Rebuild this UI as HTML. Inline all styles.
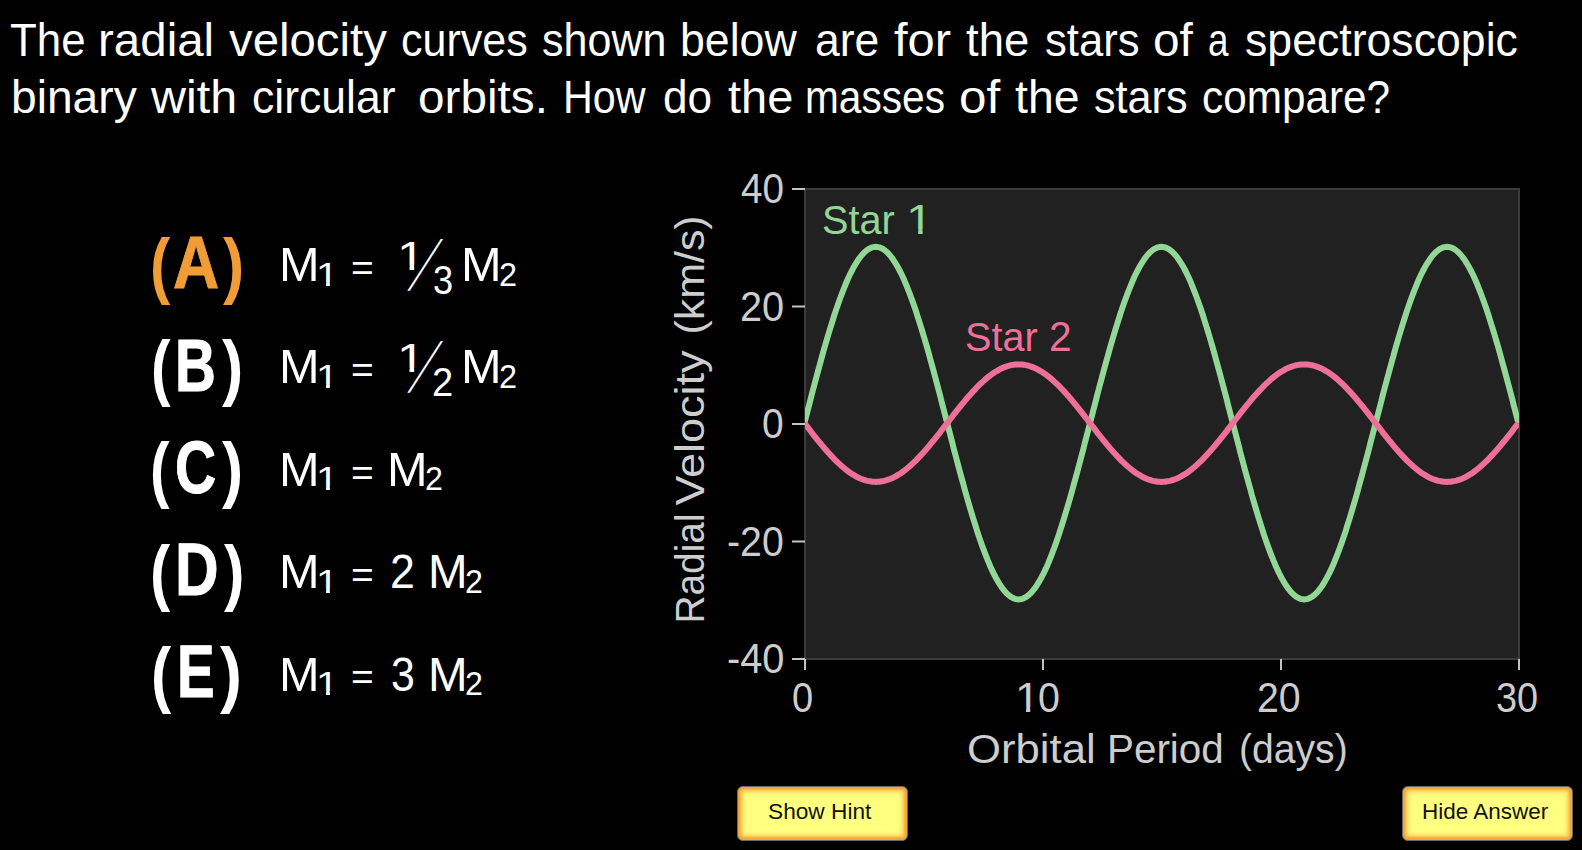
<!DOCTYPE html>
<html lang="en">
<head>
<meta charset="utf-8">
<title>Spectroscopic binary question</title>
<style>
html,body{margin:0;padding:0;background:#000;}
body{width:1582px;height:850px;position:relative;overflow:hidden;font-family:"Liberation Sans","DejaVu Sans",sans-serif;color:#fff;}
.t{position:absolute;white-space:nowrap;transform-origin:0 0;line-height:1;margin:0;padding:0;display:block;}
.lb{-webkit-text-stroke:1px currentColor;}
.one{clip-path:polygon(0 0,100% 0,100% 73.5%,61.7% 73.5%,61.7% 100%,44.9% 100%,44.9% 73.5%,0 73.5%);}
.sl{position:absolute;white-space:nowrap;line-height:1;font-size:29px;transform-origin:50% 50%;transform:skewX(-28deg) scaleY(2.43);}
.btn{position:absolute;box-sizing:border-box;height:54.5px;width:171px;top:786px;border:1px solid #6a6a66;border-radius:6px;background:#ffff80;box-shadow:inset 0 0 2px 2.5px #f3a53a,inset 0 0 5px 4.5px #f8c152,inset 0 -2px 3px 0 #f3ae44;}
svg{position:absolute;left:0;top:0;}
</style>
</head>
<body>

<svg width="1582" height="850" viewBox="0 0 1582 850">
  <defs><clipPath id="cp"><rect x="805" y="189" width="714" height="470"/></clipPath></defs>
  <rect x="805" y="189" width="714" height="470" fill="#212121" stroke="#3b3b3b" stroke-width="2"/>
  <g clip-path="url(#cp)" fill="none" stroke-width="6" stroke-linejoin="round">
    <path stroke="#93d796" d="M804.4,423.1 L805.6,418.5 L806.8,413.9 L808.0,409.3 L809.2,404.7 L810.4,400.1 L811.5,395.5 L812.7,391.0 L813.9,386.5 L815.1,382.0 L816.3,377.5 L817.5,373.0 L818.7,368.6 L819.9,364.3 L821.1,359.9 L822.2,355.7 L823.4,351.4 L824.6,347.2 L825.8,343.1 L827.0,339.0 L828.2,335.0 L829.4,331.0 L830.6,327.1 L831.8,323.3 L833.0,319.5 L834.1,315.8 L835.3,312.2 L836.5,308.6 L837.7,305.2 L838.9,301.8 L840.1,298.5 L841.3,295.3 L842.5,292.1 L843.7,289.1 L844.9,286.1 L846.0,283.3 L847.2,280.5 L848.4,277.8 L849.6,275.3 L850.8,272.8 L852.0,270.5 L853.2,268.2 L854.4,266.1 L855.6,264.0 L856.8,262.1 L857.9,260.3 L859.1,258.6 L860.3,257.0 L861.5,255.5 L862.7,254.1 L863.9,252.9 L865.1,251.7 L866.3,250.7 L867.5,249.8 L868.7,249.0 L869.9,248.4 L871.0,247.8 L872.2,247.4 L873.4,247.1 L874.6,246.9 L875.8,246.8 L877.0,246.9 L878.2,247.1 L879.4,247.4 L880.6,247.8 L881.8,248.4 L882.9,249.0 L884.1,249.8 L885.3,250.7 L886.5,251.7 L887.7,252.9 L888.9,254.1 L890.1,255.5 L891.3,257.0 L892.5,258.6 L893.6,260.3 L894.8,262.1 L896.0,264.0 L897.2,266.1 L898.4,268.2 L899.6,270.5 L900.8,272.8 L902.0,275.3 L903.2,277.8 L904.4,280.5 L905.5,283.3 L906.7,286.1 L907.9,289.1 L909.1,292.1 L910.3,295.3 L911.5,298.5 L912.7,301.8 L913.9,305.2 L915.1,308.6 L916.3,312.2 L917.4,315.8 L918.6,319.5 L919.8,323.3 L921.0,327.1 L922.2,331.0 L923.4,335.0 L924.6,339.0 L925.8,343.1 L927.0,347.2 L928.2,351.4 L929.4,355.7 L930.5,359.9 L931.7,364.3 L932.9,368.6 L934.1,373.0 L935.3,377.5 L936.5,382.0 L937.7,386.5 L938.9,391.0 L940.1,395.5 L941.2,400.1 L942.4,404.7 L943.6,409.3 L944.8,413.9 L946.0,418.5 L947.2,423.1 L948.4,427.7 L949.6,432.3 L950.8,436.9 L952.0,441.5 L953.1,446.1 L954.3,450.7 L955.5,455.2 L956.7,459.7 L957.9,464.2 L959.1,468.7 L960.3,473.2 L961.5,477.6 L962.7,481.9 L963.9,486.3 L965.0,490.5 L966.2,494.8 L967.4,499.0 L968.6,503.1 L969.8,507.2 L971.0,511.2 L972.2,515.2 L973.4,519.1 L974.6,522.9 L975.8,526.7 L976.9,530.4 L978.1,534.0 L979.3,537.6 L980.5,541.0 L981.7,544.4 L982.9,547.7 L984.1,550.9 L985.3,554.1 L986.5,557.1 L987.7,560.1 L988.9,562.9 L990.0,565.7 L991.2,568.4 L992.4,570.9 L993.6,573.4 L994.8,575.7 L996.0,578.0 L997.2,580.1 L998.4,582.2 L999.6,584.1 L1000.8,585.9 L1001.9,587.6 L1003.1,589.2 L1004.3,590.7 L1005.5,592.1 L1006.7,593.3 L1007.9,594.5 L1009.1,595.5 L1010.3,596.4 L1011.5,597.2 L1012.6,597.8 L1013.8,598.4 L1015.0,598.8 L1016.2,599.1 L1017.4,599.3 L1018.6,599.4 L1019.8,599.3 L1021.0,599.1 L1022.2,598.8 L1023.4,598.4 L1024.6,597.8 L1025.7,597.2 L1026.9,596.4 L1028.1,595.5 L1029.3,594.5 L1030.5,593.3 L1031.7,592.1 L1032.9,590.7 L1034.1,589.2 L1035.3,587.6 L1036.5,585.9 L1037.6,584.1 L1038.8,582.2 L1040.0,580.1 L1041.2,578.0 L1042.4,575.7 L1043.6,573.4 L1044.8,570.9 L1046.0,568.4 L1047.2,565.7 L1048.4,562.9 L1049.5,560.1 L1050.7,557.1 L1051.9,554.1 L1053.1,550.9 L1054.3,547.7 L1055.5,544.4 L1056.7,541.0 L1057.9,537.6 L1059.1,534.0 L1060.2,530.4 L1061.4,526.7 L1062.6,522.9 L1063.8,519.1 L1065.0,515.2 L1066.2,511.2 L1067.4,507.2 L1068.6,503.1 L1069.8,499.0 L1071.0,494.8 L1072.2,490.5 L1073.3,486.3 L1074.5,481.9 L1075.7,477.6 L1076.9,473.2 L1078.1,468.7 L1079.3,464.2 L1080.5,459.7 L1081.7,455.2 L1082.9,450.7 L1084.1,446.1 L1085.2,441.5 L1086.4,436.9 L1087.6,432.3 L1088.8,427.7 L1090.0,423.1 L1091.2,418.5 L1092.4,413.9 L1093.6,409.3 L1094.8,404.7 L1096.0,400.1 L1097.1,395.5 L1098.3,391.0 L1099.5,386.5 L1100.7,382.0 L1101.9,377.5 L1103.1,373.0 L1104.3,368.6 L1105.5,364.3 L1106.7,359.9 L1107.9,355.7 L1109.0,351.4 L1110.2,347.2 L1111.4,343.1 L1112.6,339.0 L1113.8,335.0 L1115.0,331.0 L1116.2,327.1 L1117.4,323.3 L1118.6,319.5 L1119.8,315.8 L1120.9,312.2 L1122.1,308.6 L1123.3,305.2 L1124.5,301.8 L1125.7,298.5 L1126.9,295.3 L1128.1,292.1 L1129.3,289.1 L1130.5,286.1 L1131.7,283.3 L1132.8,280.5 L1134.0,277.8 L1135.2,275.3 L1136.4,272.8 L1137.6,270.5 L1138.8,268.2 L1140.0,266.1 L1141.2,264.0 L1142.4,262.1 L1143.6,260.3 L1144.7,258.6 L1145.9,257.0 L1147.1,255.5 L1148.3,254.1 L1149.5,252.9 L1150.7,251.7 L1151.9,250.7 L1153.1,249.8 L1154.3,249.0 L1155.5,248.4 L1156.6,247.8 L1157.8,247.4 L1159.0,247.1 L1160.2,246.9 L1161.4,246.8 L1162.6,246.9 L1163.8,247.1 L1165.0,247.4 L1166.2,247.8 L1167.4,248.4 L1168.5,249.0 L1169.7,249.8 L1170.9,250.7 L1172.1,251.7 L1173.3,252.9 L1174.5,254.1 L1175.7,255.5 L1176.9,257.0 L1178.1,258.6 L1179.2,260.3 L1180.4,262.1 L1181.6,264.0 L1182.8,266.1 L1184.0,268.2 L1185.2,270.5 L1186.4,272.8 L1187.6,275.3 L1188.8,277.8 L1190.0,280.5 L1191.2,283.3 L1192.3,286.1 L1193.5,289.1 L1194.7,292.1 L1195.9,295.3 L1197.1,298.5 L1198.3,301.8 L1199.5,305.2 L1200.7,308.6 L1201.9,312.2 L1203.1,315.8 L1204.2,319.5 L1205.4,323.3 L1206.6,327.1 L1207.8,331.0 L1209.0,335.0 L1210.2,339.0 L1211.4,343.1 L1212.6,347.2 L1213.8,351.4 L1215.0,355.7 L1216.1,359.9 L1217.3,364.3 L1218.5,368.6 L1219.7,373.0 L1220.9,377.5 L1222.1,382.0 L1223.3,386.5 L1224.5,391.0 L1225.7,395.5 L1226.9,400.1 L1228.0,404.7 L1229.2,409.3 L1230.4,413.9 L1231.6,418.5 L1232.8,423.1 L1234.0,427.7 L1235.2,432.3 L1236.4,436.9 L1237.6,441.5 L1238.8,446.1 L1239.9,450.7 L1241.1,455.2 L1242.3,459.7 L1243.5,464.2 L1244.7,468.7 L1245.9,473.2 L1247.1,477.6 L1248.3,481.9 L1249.5,486.3 L1250.7,490.5 L1251.8,494.8 L1253.0,499.0 L1254.2,503.1 L1255.4,507.2 L1256.6,511.2 L1257.8,515.2 L1259.0,519.1 L1260.2,522.9 L1261.4,526.7 L1262.6,530.4 L1263.7,534.0 L1264.9,537.6 L1266.1,541.0 L1267.3,544.4 L1268.5,547.7 L1269.7,550.9 L1270.9,554.1 L1272.1,557.1 L1273.3,560.1 L1274.5,562.9 L1275.6,565.7 L1276.8,568.4 L1278.0,570.9 L1279.2,573.4 L1280.4,575.7 L1281.6,578.0 L1282.8,580.1 L1284.0,582.2 L1285.2,584.1 L1286.4,585.9 L1287.5,587.6 L1288.7,589.2 L1289.9,590.7 L1291.1,592.1 L1292.3,593.3 L1293.5,594.5 L1294.7,595.5 L1295.9,596.4 L1297.1,597.2 L1298.2,597.8 L1299.4,598.4 L1300.6,598.8 L1301.8,599.1 L1303.0,599.3 L1304.2,599.4 L1305.4,599.3 L1306.6,599.1 L1307.8,598.8 L1309.0,598.4 L1310.2,597.8 L1311.3,597.2 L1312.5,596.4 L1313.7,595.5 L1314.9,594.5 L1316.1,593.3 L1317.3,592.1 L1318.5,590.7 L1319.7,589.2 L1320.9,587.6 L1322.1,585.9 L1323.2,584.1 L1324.4,582.2 L1325.6,580.1 L1326.8,578.0 L1328.0,575.7 L1329.2,573.4 L1330.4,570.9 L1331.6,568.4 L1332.8,565.7 L1334.0,562.9 L1335.1,560.1 L1336.3,557.1 L1337.5,554.1 L1338.7,550.9 L1339.9,547.7 L1341.1,544.4 L1342.3,541.0 L1343.5,537.6 L1344.7,534.0 L1345.9,530.4 L1347.0,526.7 L1348.2,522.9 L1349.4,519.1 L1350.6,515.2 L1351.8,511.2 L1353.0,507.2 L1354.2,503.1 L1355.4,499.0 L1356.6,494.8 L1357.8,490.5 L1358.9,486.3 L1360.1,481.9 L1361.3,477.6 L1362.5,473.2 L1363.7,468.7 L1364.9,464.2 L1366.1,459.7 L1367.3,455.2 L1368.5,450.7 L1369.7,446.1 L1370.8,441.5 L1372.0,436.9 L1373.2,432.3 L1374.4,427.7 L1375.6,423.1 L1376.8,418.5 L1378.0,413.9 L1379.2,409.3 L1380.4,404.7 L1381.6,400.1 L1382.7,395.5 L1383.9,391.0 L1385.1,386.5 L1386.3,382.0 L1387.5,377.5 L1388.7,373.0 L1389.9,368.6 L1391.1,364.3 L1392.3,359.9 L1393.5,355.7 L1394.6,351.4 L1395.8,347.2 L1397.0,343.1 L1398.2,339.0 L1399.4,335.0 L1400.6,331.0 L1401.8,327.1 L1403.0,323.3 L1404.2,319.5 L1405.4,315.8 L1406.5,312.2 L1407.7,308.6 L1408.9,305.2 L1410.1,301.8 L1411.3,298.5 L1412.5,295.3 L1413.7,292.1 L1414.9,289.1 L1416.1,286.1 L1417.2,283.3 L1418.4,280.5 L1419.6,277.8 L1420.8,275.3 L1422.0,272.8 L1423.2,270.5 L1424.4,268.2 L1425.6,266.1 L1426.8,264.0 L1428.0,262.1 L1429.2,260.3 L1430.3,258.6 L1431.5,257.0 L1432.7,255.5 L1433.9,254.1 L1435.1,252.9 L1436.3,251.7 L1437.5,250.7 L1438.7,249.8 L1439.9,249.0 L1441.1,248.4 L1442.2,247.8 L1443.4,247.4 L1444.6,247.1 L1445.8,246.9 L1447.0,246.8 L1448.2,246.9 L1449.4,247.1 L1450.6,247.4 L1451.8,247.8 L1453.0,248.4 L1454.1,249.0 L1455.3,249.8 L1456.5,250.7 L1457.7,251.7 L1458.9,252.9 L1460.1,254.1 L1461.3,255.5 L1462.5,257.0 L1463.7,258.6 L1464.9,260.3 L1466.0,262.1 L1467.2,264.0 L1468.4,266.1 L1469.6,268.2 L1470.8,270.5 L1472.0,272.8 L1473.2,275.3 L1474.4,277.8 L1475.6,280.5 L1476.8,283.3 L1477.9,286.1 L1479.1,289.1 L1480.3,292.1 L1481.5,295.3 L1482.7,298.5 L1483.9,301.8 L1485.1,305.2 L1486.3,308.6 L1487.5,312.2 L1488.7,315.8 L1489.8,319.5 L1491.0,323.3 L1492.2,327.1 L1493.4,331.0 L1494.6,335.0 L1495.8,339.0 L1497.0,343.1 L1498.2,347.2 L1499.4,351.4 L1500.6,355.7 L1501.7,359.9 L1502.9,364.3 L1504.1,368.6 L1505.3,373.0 L1506.5,377.5 L1507.7,382.0 L1508.9,386.5 L1510.1,391.0 L1511.3,395.5 L1512.5,400.1 L1513.6,404.7 L1514.8,409.3 L1516.0,413.9 L1517.2,418.5 L1518.4,423.1"/>
    <path stroke="#ee7098" d="M804.4,423.1 L805.6,424.6 L806.8,426.2 L808.0,427.7 L809.2,429.2 L810.4,430.8 L811.5,432.3 L812.7,433.8 L813.9,435.3 L815.1,436.8 L816.3,438.3 L817.5,439.8 L818.7,441.3 L819.9,442.7 L821.1,444.2 L822.2,445.6 L823.4,447.0 L824.6,448.4 L825.8,449.8 L827.0,451.1 L828.2,452.5 L829.4,453.8 L830.6,455.1 L831.8,456.4 L833.0,457.6 L834.1,458.9 L835.3,460.1 L836.5,461.3 L837.7,462.4 L838.9,463.5 L840.1,464.6 L841.3,465.7 L842.5,466.8 L843.7,467.8 L844.9,468.8 L846.0,469.7 L847.2,470.6 L848.4,471.5 L849.6,472.4 L850.8,473.2 L852.0,474.0 L853.2,474.7 L854.4,475.4 L855.6,476.1 L856.8,476.8 L857.9,477.4 L859.1,477.9 L860.3,478.5 L861.5,479.0 L862.7,479.4 L863.9,479.8 L865.1,480.2 L866.3,480.6 L867.5,480.9 L868.7,481.1 L869.9,481.3 L871.0,481.5 L872.2,481.7 L873.4,481.8 L874.6,481.8 L875.8,481.9 L877.0,481.8 L878.2,481.8 L879.4,481.7 L880.6,481.5 L881.8,481.3 L882.9,481.1 L884.1,480.9 L885.3,480.6 L886.5,480.2 L887.7,479.8 L888.9,479.4 L890.1,479.0 L891.3,478.5 L892.5,477.9 L893.6,477.4 L894.8,476.8 L896.0,476.1 L897.2,475.4 L898.4,474.7 L899.6,474.0 L900.8,473.2 L902.0,472.4 L903.2,471.5 L904.4,470.6 L905.5,469.7 L906.7,468.8 L907.9,467.8 L909.1,466.8 L910.3,465.7 L911.5,464.6 L912.7,463.5 L913.9,462.4 L915.1,461.3 L916.3,460.1 L917.4,458.9 L918.6,457.6 L919.8,456.4 L921.0,455.1 L922.2,453.8 L923.4,452.5 L924.6,451.1 L925.8,449.8 L927.0,448.4 L928.2,447.0 L929.4,445.6 L930.5,444.2 L931.7,442.7 L932.9,441.3 L934.1,439.8 L935.3,438.3 L936.5,436.8 L937.7,435.3 L938.9,433.8 L940.1,432.3 L941.2,430.8 L942.4,429.2 L943.6,427.7 L944.8,426.2 L946.0,424.6 L947.2,423.1 L948.4,421.6 L949.6,420.0 L950.8,418.5 L952.0,417.0 L953.1,415.4 L954.3,413.9 L955.5,412.4 L956.7,410.9 L957.9,409.4 L959.1,407.9 L960.3,406.4 L961.5,404.9 L962.7,403.5 L963.9,402.0 L965.0,400.6 L966.2,399.2 L967.4,397.8 L968.6,396.4 L969.8,395.1 L971.0,393.7 L972.2,392.4 L973.4,391.1 L974.6,389.8 L975.8,388.6 L976.9,387.3 L978.1,386.1 L979.3,384.9 L980.5,383.8 L981.7,382.7 L982.9,381.6 L984.1,380.5 L985.3,379.4 L986.5,378.4 L987.7,377.4 L988.9,376.5 L990.0,375.6 L991.2,374.7 L992.4,373.8 L993.6,373.0 L994.8,372.2 L996.0,371.5 L997.2,370.8 L998.4,370.1 L999.6,369.4 L1000.8,368.8 L1001.9,368.3 L1003.1,367.7 L1004.3,367.2 L1005.5,366.8 L1006.7,366.4 L1007.9,366.0 L1009.1,365.6 L1010.3,365.3 L1011.5,365.1 L1012.6,364.9 L1013.8,364.7 L1015.0,364.5 L1016.2,364.4 L1017.4,364.4 L1018.6,364.4 L1019.8,364.4 L1021.0,364.4 L1022.2,364.5 L1023.4,364.7 L1024.6,364.9 L1025.7,365.1 L1026.9,365.3 L1028.1,365.6 L1029.3,366.0 L1030.5,366.4 L1031.7,366.8 L1032.9,367.2 L1034.1,367.7 L1035.3,368.3 L1036.5,368.8 L1037.6,369.4 L1038.8,370.1 L1040.0,370.8 L1041.2,371.5 L1042.4,372.2 L1043.6,373.0 L1044.8,373.8 L1046.0,374.7 L1047.2,375.6 L1048.4,376.5 L1049.5,377.4 L1050.7,378.4 L1051.9,379.4 L1053.1,380.5 L1054.3,381.6 L1055.5,382.7 L1056.7,383.8 L1057.9,384.9 L1059.1,386.1 L1060.2,387.3 L1061.4,388.6 L1062.6,389.8 L1063.8,391.1 L1065.0,392.4 L1066.2,393.7 L1067.4,395.1 L1068.6,396.4 L1069.8,397.8 L1071.0,399.2 L1072.2,400.6 L1073.3,402.0 L1074.5,403.5 L1075.7,404.9 L1076.9,406.4 L1078.1,407.9 L1079.3,409.4 L1080.5,410.9 L1081.7,412.4 L1082.9,413.9 L1084.1,415.4 L1085.2,417.0 L1086.4,418.5 L1087.6,420.0 L1088.8,421.6 L1090.0,423.1 L1091.2,424.6 L1092.4,426.2 L1093.6,427.7 L1094.8,429.2 L1096.0,430.8 L1097.1,432.3 L1098.3,433.8 L1099.5,435.3 L1100.7,436.8 L1101.9,438.3 L1103.1,439.8 L1104.3,441.3 L1105.5,442.7 L1106.7,444.2 L1107.9,445.6 L1109.0,447.0 L1110.2,448.4 L1111.4,449.8 L1112.6,451.1 L1113.8,452.5 L1115.0,453.8 L1116.2,455.1 L1117.4,456.4 L1118.6,457.6 L1119.8,458.9 L1120.9,460.1 L1122.1,461.3 L1123.3,462.4 L1124.5,463.5 L1125.7,464.6 L1126.9,465.7 L1128.1,466.8 L1129.3,467.8 L1130.5,468.8 L1131.7,469.7 L1132.8,470.6 L1134.0,471.5 L1135.2,472.4 L1136.4,473.2 L1137.6,474.0 L1138.8,474.7 L1140.0,475.4 L1141.2,476.1 L1142.4,476.8 L1143.6,477.4 L1144.7,477.9 L1145.9,478.5 L1147.1,479.0 L1148.3,479.4 L1149.5,479.8 L1150.7,480.2 L1151.9,480.6 L1153.1,480.9 L1154.3,481.1 L1155.5,481.3 L1156.6,481.5 L1157.8,481.7 L1159.0,481.8 L1160.2,481.8 L1161.4,481.9 L1162.6,481.8 L1163.8,481.8 L1165.0,481.7 L1166.2,481.5 L1167.4,481.3 L1168.5,481.1 L1169.7,480.9 L1170.9,480.6 L1172.1,480.2 L1173.3,479.8 L1174.5,479.4 L1175.7,479.0 L1176.9,478.5 L1178.1,477.9 L1179.2,477.4 L1180.4,476.8 L1181.6,476.1 L1182.8,475.4 L1184.0,474.7 L1185.2,474.0 L1186.4,473.2 L1187.6,472.4 L1188.8,471.5 L1190.0,470.6 L1191.2,469.7 L1192.3,468.8 L1193.5,467.8 L1194.7,466.8 L1195.9,465.7 L1197.1,464.6 L1198.3,463.5 L1199.5,462.4 L1200.7,461.3 L1201.9,460.1 L1203.1,458.9 L1204.2,457.6 L1205.4,456.4 L1206.6,455.1 L1207.8,453.8 L1209.0,452.5 L1210.2,451.1 L1211.4,449.8 L1212.6,448.4 L1213.8,447.0 L1215.0,445.6 L1216.1,444.2 L1217.3,442.7 L1218.5,441.3 L1219.7,439.8 L1220.9,438.3 L1222.1,436.8 L1223.3,435.3 L1224.5,433.8 L1225.7,432.3 L1226.9,430.8 L1228.0,429.2 L1229.2,427.7 L1230.4,426.2 L1231.6,424.6 L1232.8,423.1 L1234.0,421.6 L1235.2,420.0 L1236.4,418.5 L1237.6,417.0 L1238.8,415.4 L1239.9,413.9 L1241.1,412.4 L1242.3,410.9 L1243.5,409.4 L1244.7,407.9 L1245.9,406.4 L1247.1,404.9 L1248.3,403.5 L1249.5,402.0 L1250.7,400.6 L1251.8,399.2 L1253.0,397.8 L1254.2,396.4 L1255.4,395.1 L1256.6,393.7 L1257.8,392.4 L1259.0,391.1 L1260.2,389.8 L1261.4,388.6 L1262.6,387.3 L1263.7,386.1 L1264.9,384.9 L1266.1,383.8 L1267.3,382.7 L1268.5,381.6 L1269.7,380.5 L1270.9,379.4 L1272.1,378.4 L1273.3,377.4 L1274.5,376.5 L1275.6,375.6 L1276.8,374.7 L1278.0,373.8 L1279.2,373.0 L1280.4,372.2 L1281.6,371.5 L1282.8,370.8 L1284.0,370.1 L1285.2,369.4 L1286.4,368.8 L1287.5,368.3 L1288.7,367.7 L1289.9,367.2 L1291.1,366.8 L1292.3,366.4 L1293.5,366.0 L1294.7,365.6 L1295.9,365.3 L1297.1,365.1 L1298.2,364.9 L1299.4,364.7 L1300.6,364.5 L1301.8,364.4 L1303.0,364.4 L1304.2,364.4 L1305.4,364.4 L1306.6,364.4 L1307.8,364.5 L1309.0,364.7 L1310.2,364.9 L1311.3,365.1 L1312.5,365.3 L1313.7,365.6 L1314.9,366.0 L1316.1,366.4 L1317.3,366.8 L1318.5,367.2 L1319.7,367.7 L1320.9,368.3 L1322.1,368.8 L1323.2,369.4 L1324.4,370.1 L1325.6,370.8 L1326.8,371.5 L1328.0,372.2 L1329.2,373.0 L1330.4,373.8 L1331.6,374.7 L1332.8,375.6 L1334.0,376.5 L1335.1,377.4 L1336.3,378.4 L1337.5,379.4 L1338.7,380.5 L1339.9,381.6 L1341.1,382.7 L1342.3,383.8 L1343.5,384.9 L1344.7,386.1 L1345.9,387.3 L1347.0,388.6 L1348.2,389.8 L1349.4,391.1 L1350.6,392.4 L1351.8,393.7 L1353.0,395.1 L1354.2,396.4 L1355.4,397.8 L1356.6,399.2 L1357.8,400.6 L1358.9,402.0 L1360.1,403.5 L1361.3,404.9 L1362.5,406.4 L1363.7,407.9 L1364.9,409.4 L1366.1,410.9 L1367.3,412.4 L1368.5,413.9 L1369.7,415.4 L1370.8,417.0 L1372.0,418.5 L1373.2,420.0 L1374.4,421.6 L1375.6,423.1 L1376.8,424.6 L1378.0,426.2 L1379.2,427.7 L1380.4,429.2 L1381.6,430.8 L1382.7,432.3 L1383.9,433.8 L1385.1,435.3 L1386.3,436.8 L1387.5,438.3 L1388.7,439.8 L1389.9,441.3 L1391.1,442.7 L1392.3,444.2 L1393.5,445.6 L1394.6,447.0 L1395.8,448.4 L1397.0,449.8 L1398.2,451.1 L1399.4,452.5 L1400.6,453.8 L1401.8,455.1 L1403.0,456.4 L1404.2,457.6 L1405.4,458.9 L1406.5,460.1 L1407.7,461.3 L1408.9,462.4 L1410.1,463.5 L1411.3,464.6 L1412.5,465.7 L1413.7,466.8 L1414.9,467.8 L1416.1,468.8 L1417.2,469.7 L1418.4,470.6 L1419.6,471.5 L1420.8,472.4 L1422.0,473.2 L1423.2,474.0 L1424.4,474.7 L1425.6,475.4 L1426.8,476.1 L1428.0,476.8 L1429.2,477.4 L1430.3,477.9 L1431.5,478.5 L1432.7,479.0 L1433.9,479.4 L1435.1,479.8 L1436.3,480.2 L1437.5,480.6 L1438.7,480.9 L1439.9,481.1 L1441.1,481.3 L1442.2,481.5 L1443.4,481.7 L1444.6,481.8 L1445.8,481.8 L1447.0,481.9 L1448.2,481.8 L1449.4,481.8 L1450.6,481.7 L1451.8,481.5 L1453.0,481.3 L1454.1,481.1 L1455.3,480.9 L1456.5,480.6 L1457.7,480.2 L1458.9,479.8 L1460.1,479.4 L1461.3,479.0 L1462.5,478.5 L1463.7,477.9 L1464.9,477.4 L1466.0,476.8 L1467.2,476.1 L1468.4,475.4 L1469.6,474.7 L1470.8,474.0 L1472.0,473.2 L1473.2,472.4 L1474.4,471.5 L1475.6,470.6 L1476.8,469.7 L1477.9,468.8 L1479.1,467.8 L1480.3,466.8 L1481.5,465.7 L1482.7,464.6 L1483.9,463.5 L1485.1,462.4 L1486.3,461.3 L1487.5,460.1 L1488.7,458.9 L1489.8,457.6 L1491.0,456.4 L1492.2,455.1 L1493.4,453.8 L1494.6,452.5 L1495.8,451.1 L1497.0,449.8 L1498.2,448.4 L1499.4,447.0 L1500.6,445.6 L1501.7,444.2 L1502.9,442.7 L1504.1,441.3 L1505.3,439.8 L1506.5,438.3 L1507.7,436.8 L1508.9,435.3 L1510.1,433.8 L1511.3,432.3 L1512.5,430.8 L1513.6,429.2 L1514.8,427.7 L1516.0,426.2 L1517.2,424.6 L1518.4,423.1"/>
  </g>
  <g stroke="#c4c4c4" stroke-width="2" fill="none">
    <line x1="792" y1="189.0" x2="805" y2="189.0"/>
    <line x1="792" y1="306.5" x2="805" y2="306.5"/>
    <line x1="792" y1="424.0" x2="805" y2="424.0"/>
    <line x1="792" y1="541.5" x2="805" y2="541.5"/>
    <line x1="792" y1="659.0" x2="805" y2="659.0"/>
    <line x1="805.0" y1="659" x2="805.0" y2="670"/>
    <line x1="1043.0" y1="659" x2="1043.0" y2="670"/>
    <line x1="1281.0" y1="659" x2="1281.0" y2="670"/>
    <line x1="1519.0" y1="659" x2="1519.0" y2="670"/>
  </g>
</svg>


<div class="q"><span class="t" style="left:10.44px;top:17.50px;font-size:45.6px;transform:scaleX(0.9618);">The</span> <span class="t" style="left:97.98px;top:17.50px;font-size:45.6px;transform:scaleX(1.0415);">radial</span> <span class="t" style="left:228.80px;top:17.50px;font-size:45.6px;transform:scaleX(1.0385);">velocity</span> <span class="t" style="left:400.56px;top:17.50px;font-size:45.6px;transform:scaleX(0.9442);">curves</span> <span class="t" style="left:542.16px;top:17.50px;font-size:45.6px;transform:scaleX(0.9444);">shown</span> <span class="t" style="left:680.14px;top:17.50px;font-size:45.6px;transform:scaleX(0.9797);">below</span> <span class="t" style="left:814.62px;top:17.50px;font-size:45.6px;transform:scaleX(0.9758);">are</span> <span class="t" style="left:894.00px;top:17.50px;font-size:45.6px;transform:scaleX(1.0731);">for</span> <span class="t" style="left:966.10px;top:17.50px;font-size:45.6px;transform:scaleX(0.9980);">the</span> <span class="t" style="left:1044.74px;top:17.50px;font-size:45.6px;transform:scaleX(0.9567);">stars</span> <span class="t" style="left:1152.95px;top:17.50px;font-size:45.6px;transform:scaleX(1.0493);">of</span> <span class="t" style="left:1208.49px;top:17.50px;font-size:45.6px;transform:scaleX(0.8080);">a</span> <span class="t" style="left:1244.82px;top:17.50px;font-size:45.6px;transform:scaleX(0.9789);">spectroscopic</span> <span class="t" style="left:10.58px;top:74.70px;font-size:45.6px;transform:scaleX(1.0124);">binary</span> <span class="t" style="left:151.46px;top:74.70px;font-size:45.6px;transform:scaleX(1.0624);">with</span> <span class="t" style="left:251.82px;top:74.70px;font-size:45.6px;transform:scaleX(0.9770);">circular</span> <span class="t" style="left:418.15px;top:74.70px;font-size:45.6px;transform:scaleX(1.0469);">orbits.</span> <span class="t" style="left:563.08px;top:74.70px;font-size:45.6px;transform:scaleX(0.9061);">How</span> <span class="t" style="left:663.43px;top:74.70px;font-size:45.6px;transform:scaleX(0.9678);">do</span> <span class="t" style="left:727.70px;top:74.70px;font-size:45.6px;transform:scaleX(1.0302);">the</span> <span class="t" style="left:805.33px;top:74.70px;font-size:45.6px;transform:scaleX(0.8911);">masses</span> <span class="t" style="left:958.62px;top:74.70px;font-size:45.6px;transform:scaleX(1.0841);">of</span> <span class="t" style="left:1015.40px;top:74.70px;font-size:45.6px;transform:scaleX(1.0190);">the</span> <span class="t" style="left:1094.05px;top:74.70px;font-size:45.6px;transform:scaleX(0.9474);">stars</span> <span class="t" style="left:1202.37px;top:74.70px;font-size:45.6px;transform:scaleX(0.9277);">compare?</span></div>
<div class="opt"><span class="t" style="left:149.50px;top:228.30px;font-size:73px;transform:scaleX(0.8318);color:#f09d37;font-weight:bold;">(</span><span class="t lb" style="left:173.07px;top:226.10px;font-size:74px;transform:scaleX(0.8635);color:#f09d37;font-weight:bold;">A</span><span class="t" style="left:223.40px;top:228.30px;font-size:73px;transform:scaleX(0.8762);color:#f09d37;font-weight:bold;">)</span> <span class="t" style="left:279.26px;top:241.40px;font-size:48px;transform:scaleX(1.0147);">M</span><span class="t one" style="left:316.26px;top:257.70px;font-size:33px;transform:scaleX(1.2245);">1</span> <span class="t" style="left:351.12px;top:250.20px;font-size:36px;transform:scaleX(1.0789);">=</span> <span class="t one" style="left:396.73px;top:236.30px;font-size:40px;transform:scaleX(1.2551);">1</span><span class="sl" style="left:420px;top:251.5px;">/</span><span class="t" style="left:432.60px;top:260.40px;font-size:40px;transform:scaleX(0.9050);">3</span> <span class="t" style="left:460.86px;top:241.40px;font-size:48px;transform:scaleX(1.0147);">M</span><span class="t" style="left:499.02px;top:257.70px;font-size:33px;transform:scaleX(0.9813);">2</span></div>
<div class="opt"><span class="t" style="left:150.89px;top:330.20px;font-size:73px;transform:scaleX(0.8045);font-weight:bold;">(</span><span class="t lb" style="left:175.22px;top:328.90px;font-size:74px;transform:scaleX(0.7646);font-weight:bold;">B</span><span class="t" style="left:221.50px;top:330.20px;font-size:73px;transform:scaleX(0.8762);font-weight:bold;">)</span> <span class="t" style="left:279.26px;top:343.40px;font-size:48px;transform:scaleX(1.0147);">M</span><span class="t one" style="left:316.26px;top:359.70px;font-size:33px;transform:scaleX(1.2245);">1</span> <span class="t" style="left:351.12px;top:352.20px;font-size:36px;transform:scaleX(1.0789);">=</span> <span class="t one" style="left:396.73px;top:338.30px;font-size:40px;transform:scaleX(1.2551);">1</span><span class="sl" style="left:420px;top:353.5px;">/</span><span class="t" style="left:431.59px;top:362.40px;font-size:40px;transform:scaleX(0.9526);">2</span> <span class="t" style="left:460.86px;top:343.40px;font-size:48px;transform:scaleX(1.0147);">M</span><span class="t" style="left:499.02px;top:359.70px;font-size:33px;transform:scaleX(0.9813);">2</span></div>
<div class="opt"><span class="t" style="left:150.19px;top:432.30px;font-size:73px;transform:scaleX(0.8045);font-weight:bold;">(</span><span class="t lb" style="left:174.77px;top:431.00px;font-size:74px;transform:scaleX(0.7700);font-weight:bold;">C</span><span class="t" style="left:222.20px;top:432.30px;font-size:73px;transform:scaleX(0.8714);font-weight:bold;">)</span> <span class="t" style="left:279.26px;top:446.10px;font-size:48px;transform:scaleX(1.0147);">M</span><span class="t one" style="left:316.26px;top:462.40px;font-size:33px;transform:scaleX(1.2245);">1</span> <span class="t" style="left:351.12px;top:454.90px;font-size:36px;transform:scaleX(1.0789);">=</span> <span class="t" style="left:386.96px;top:446.10px;font-size:48px;transform:scaleX(1.0147);">M</span><span class="t" style="left:425.12px;top:462.40px;font-size:33px;transform:scaleX(0.9750);">2</span></div>
<div class="opt"><span class="t" style="left:149.50px;top:534.60px;font-size:73px;transform:scaleX(0.8318);font-weight:bold;">(</span><span class="t lb" style="left:175.04px;top:533.30px;font-size:74px;transform:scaleX(0.8167);font-weight:bold;">D</span><span class="t" style="left:224.10px;top:534.60px;font-size:73px;transform:scaleX(0.8429);font-weight:bold;">)</span> <span class="t" style="left:279.26px;top:548.40px;font-size:48px;transform:scaleX(1.0147);">M</span><span class="t one" style="left:316.26px;top:564.70px;font-size:33px;transform:scaleX(1.2245);">1</span> <span class="t" style="left:351.12px;top:557.20px;font-size:36px;transform:scaleX(1.0789);">=</span> <span class="t" style="left:389.74px;top:548.40px;font-size:48px;transform:scaleX(0.9304);">2</span> <span class="t" style="left:428.03px;top:548.40px;font-size:48px;transform:scaleX(0.9912);">M</span><span class="t" style="left:465.42px;top:564.70px;font-size:33px;transform:scaleX(0.9750);">2</span></div>
<div class="opt"><span class="t" style="left:151.40px;top:636.60px;font-size:73px;transform:scaleX(0.8318);font-weight:bold;">(</span><span class="t lb" style="left:177.14px;top:635.30px;font-size:74px;transform:scaleX(0.7614);font-weight:bold;">E</span><span class="t" style="left:219.60px;top:636.60px;font-size:73px;transform:scaleX(0.9048);font-weight:bold;">)</span> <span class="t" style="left:279.26px;top:650.50px;font-size:48px;transform:scaleX(1.0147);">M</span><span class="t one" style="left:316.26px;top:666.80px;font-size:33px;transform:scaleX(1.2245);">1</span> <span class="t" style="left:351.12px;top:659.30px;font-size:36px;transform:scaleX(1.0789);">=</span> <span class="t" style="left:390.71px;top:650.50px;font-size:48px;transform:scaleX(0.8917);">3</span> <span class="t" style="left:428.03px;top:650.50px;font-size:48px;transform:scaleX(0.9912);">M</span><span class="t" style="left:465.42px;top:666.80px;font-size:33px;transform:scaleX(0.9750);">2</span></div>
<div class="ax"><span class="t" style="left:740.80px;top:168.10px;font-size:42px;transform:scaleX(0.9193);color:#cdcdcd;">40</span> <span class="t" style="left:739.61px;top:285.60px;font-size:42px;transform:scaleX(0.9456);color:#cdcdcd;">20</span> <span class="t" style="left:762.07px;top:403.10px;font-size:42px;transform:scaleX(0.9286);color:#cdcdcd;">0</span> <span class="t" style="left:727.07px;top:520.60px;font-size:42px;transform:scaleX(0.9341);color:#cdcdcd;">-20</span> <span class="t" style="left:726.65px;top:638.10px;font-size:42px;transform:scaleX(0.9461);color:#cdcdcd;">-40</span></div>
<div class="ax"><span class="t" style="left:792.10px;top:676.50px;font-size:42px;transform:scaleX(0.9048);color:#cdcdcd;">0</span> <span class="t one" style="left:1015.17px;top:676.50px;font-size:42px;transform:scaleX(1.0593);color:#cdcdcd;">1</span><span class="t" style="left:1037.56px;top:676.50px;font-size:42px;transform:scaleX(0.9381);color:#cdcdcd;">0</span> <span class="t" style="left:1257.13px;top:676.50px;font-size:42px;transform:scaleX(0.9341);color:#cdcdcd;">20</span> <span class="t" style="left:1496.30px;top:676.50px;font-size:42px;transform:scaleX(0.9017);color:#cdcdcd;">30</span></div>
<div class="ax"><span class="t" style="left:966.93px;top:729.10px;font-size:41px;transform:scaleX(1.0659);color:#cdcdcd;">Orbital</span> <span class="t" style="left:1107.05px;top:729.10px;font-size:41px;transform:scaleX(0.9849);color:#cdcdcd;">Period</span> <span class="t" style="left:1238.89px;top:729.10px;font-size:41px;transform:scaleX(0.9541);color:#cdcdcd;">(days)</span></div>
<div class="ax"><span class="t" style="left:704.00px;top:589.24px;font-size:41px;transform-origin:0 34.50px;transform:rotate(-90deg) scaleX(0.9467);color:#cdcdcd;">Radial</span> <span class="t" style="left:704.00px;top:470.90px;font-size:41px;transform-origin:0 34.50px;transform:rotate(-90deg) scaleX(1.0973);color:#cdcdcd;">Velocity</span> <span class="t" style="left:704.00px;top:299.79px;font-size:41px;transform-origin:0 34.50px;transform:rotate(-90deg) scaleX(1.0463);color:#cdcdcd;">(km/s)</span></div>
<div class="ax"><span class="t" style="left:821.83px;top:199.70px;font-size:41px;transform:scaleX(0.9682);color:#93d796;">Star</span> <span class="t one" style="left:906.29px;top:198.70px;font-size:42px;transform:scaleX(1.1565);color:#93d796;">1</span></div>
<div class="ax"><span class="t" style="left:964.93px;top:317.00px;font-size:41px;transform:scaleX(0.9668);color:#ee7098;">Star</span> <span class="t" style="left:1049.06px;top:316.00px;font-size:42px;transform:scaleX(0.9700);color:#ee7098;">2</span></div>
<div class="btn" style="left:737px;"><span class="t" style="left:30.19px;top:14.25px;font-size:22.5px;transform:scaleX(1.0079);color:#111;">Show Hint</span></div>
<div class="btn" style="left:1401.6px;"><span class="t" style="left:19.50px;top:14.25px;font-size:22.5px;transform:scaleX(0.9995);color:#111;">Hide Answer</span></div>


</body>
</html>
